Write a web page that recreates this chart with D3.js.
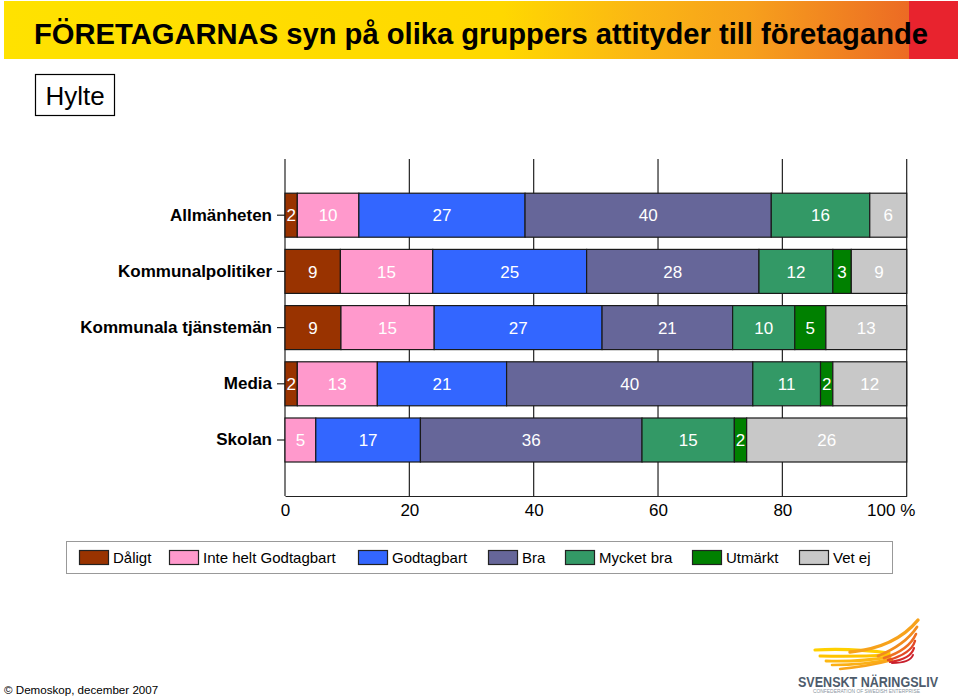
<!DOCTYPE html>
<html>
<head>
<meta charset="utf-8">
<script src="https://cdn.jsdelivr.net/npm/d3@7"></script>
<style>
  html, body { margin: 0; padding: 0; background: #fff; }
  svg { display: block; font-family: "Liberation Sans", Arial, sans-serif; }
</style>
</head>
<body>
<svg id="chart" width="960" height="698"></svg>
<script>
// ---------- DATA ----------
const categories = ["Allmänheten", "Kommunalpolitiker", "Kommunala tjänstemän", "Media", "Skolan"];
const seriesNames = ["Dåligt", "Inte helt Godtagbart", "Godtagbart", "Bra", "Mycket bra", "Utmärkt", "Vet ej"];
const daligt      = [2, 9, 9, 2, 0];
const inteHelt    = [10, 15, 15, 13, 5];
const godtagbart  = [27, 25, 27, 21, 17];
const bra         = [40, 28, 21, 40, 36];
const mycketBra   = [16, 12, 10, 11, 15];
const utmarkt     = [0, 3, 5, 2, 2];
const vetEj       = [6, 9, 13, 12, 26];
const seriesColors = ["#993300", "#FF99CC", "#3366FF", "#666699", "#339966", "#008000", "#C8C8C8"];
const tickValues = [0, 20, 40, 60, 80, 100];
const tickLabels = ["0", "20", "40", "60", "80", "100 %"];
const titleText = "FÖRETAGARNAS syn på olika gruppers attityder till företagande";
const regionText = "Hylte";
const footerText = "© Demoskop, december 2007";

// ---------- BUILD ----------
const seriesValues = [daligt, inteHelt, godtagbart, bra, mycketBra, utmarkt, vetEj];
const rows = categories.map((c, i) => {
  const r = { category: c };
  seriesNames.forEach((s, j) => { r[s] = seriesValues[j][i]; });
  return r;
});
const stacked = d3.stack().keys(seriesNames).offset(d3.stackOffsetExpand)(rows);

const svg = d3.select("#chart");
const defs = svg.append("defs");

// ---------- BANNER ----------
const grad = defs.append("linearGradient").attr("id", "bannerGrad")
  .attr("x1", "0%").attr("x2", "100%").attr("y1", "0%").attr("y2", "0%");
[[0, "#FFE200"], [0.55, "#FFD800"], [0.7, "#FBB614"], [0.82, "#F7A11C"], [0.95, "#EF7A22"], [1, "#EC6A24"]]
  .forEach(([o, c]) => grad.append("stop").attr("offset", o).attr("stop-color", c));
svg.append("rect").attr("x", 4).attr("y", 1).attr("width", 906).attr("height", 58).attr("fill", "url(#bannerGrad)");
svg.append("rect").attr("x", 909).attr("y", 1).attr("width", 49).attr("height", 58).attr("fill", "#E8232E");
svg.append("text").attr("x", 34).attr("y", 44)
  .attr("font-size", 29).attr("font-weight", "bold").attr("fill", "#000")
  .attr("textLength", 894).attr("lengthAdjust", "spacingAndGlyphs")
  .text(titleText);

// Region box
svg.append("rect").attr("x", 35.5).attr("y", 74.5).attr("width", 79).attr("height", 41)
  .attr("fill", "#fff").attr("stroke", "#000").attr("stroke-width", 1.2);
svg.append("text").attr("x", 75).attr("y", 105).attr("text-anchor", "middle")
  .attr("font-size", 26).attr("fill", "#000").text(regionText);

// ---------- SCALES ----------
const x = d3.scaleLinear().domain([0, 1]).range([285, 906.7]);
const y = d3.scaleBand().domain(categories).range([187.1, 468.1]).paddingInner(0.217).paddingOuter(0.1085);
const plotTop = 159, plotBottom = 496;

// grid lines
svg.append("g").selectAll("line").data(tickValues).join("line")
  .attr("x1", d => x(d / 100)).attr("x2", d => x(d / 100))
  .attr("y1", plotTop).attr("y2", plotBottom)
  .attr("stroke", "#222").attr("stroke-width", 1.2);

// bottom axis
const xAxis = d3.axisBottom(x).tickValues(tickValues.map(v => v / 100))
  .tickFormat((d, i) => tickLabels[i]).tickSize(0).tickPadding(8);
const gx = svg.append("g").attr("transform", `translate(0,${plotBottom})`).call(xAxis);
gx.select(".domain").attr("stroke", "#222").attr("stroke-width", 1.2);
gx.selectAll("text").attr("font-size", 17).attr("fill", "#000")
  .attr("font-family", "'Liberation Sans', Arial, sans-serif");
gx.selectAll(".tick").filter((d, i) => i === tickValues.length - 1).select("text")
  .attr("dx", -16);

// left axis
const yAxis = d3.axisLeft(y).tickSize(8).tickPadding(5);
const gy = svg.append("g").attr("transform", `translate(${x(0)},0)`).call(yAxis);
gy.select(".domain").remove();
gy.selectAll("line").attr("stroke", "#222").attr("stroke-width", 1.2);
gy.selectAll("text").attr("font-size", 17).attr("font-weight", "bold").attr("fill", "#000")
  .attr("font-family", "'Liberation Sans', Arial, sans-serif");

// ---------- BARS ----------
const layers = svg.append("g").selectAll("g").data(stacked).join("g")
  .attr("fill", (d, i) => seriesColors[i]);
layers.selectAll("rect").data(d => d.filter(p => p.data[d.key] > 0).map(p => ({ p, key: d.key })))
  .join("rect")
  .attr("x", d => x(d.p[0])).attr("width", d => x(d.p[1]) - x(d.p[0]))
  .attr("y", d => y(d.p.data.category)).attr("height", y.bandwidth())
  .attr("stroke", "#1a1a1a").attr("stroke-width", 1.2);

// value labels
const labels = svg.append("g");
stacked.forEach(layer => {
  layer.forEach(p => {
    const v = p.data[layer.key];
    if (v <= 0) return;
    labels.append("text")
      .attr("x", (x(p[0]) + x(p[1])) / 2)
      .attr("y", y(p.data.category) + y.bandwidth() / 2)
      .attr("dy", "0.36em").attr("text-anchor", "middle")
      .attr("font-size", 17).attr("fill", "#fff").text(v);
  });
});

// ---------- LEGEND ----------
svg.append("rect").attr("x", 66.5).attr("y", 541.5).attr("width", 826).attr("height", 32)
  .attr("fill", "#fff").attr("stroke", "#999").attr("stroke-width", 1);
const legendX = [79, 169, 358, 488, 565, 692, 799];
const leg = svg.append("g").selectAll("g").data(seriesNames).join("g")
  .attr("transform", (d, i) => `translate(${legendX[i]},550)`);
leg.append("rect").attr("x", 0.5).attr("y", 0.5).attr("width", 29).attr("height", 14)
  .attr("fill", (d, i) => seriesColors[i]).attr("stroke", "#222").attr("stroke-width", 1.2);
leg.append("text").attr("x", 34).attr("y", 13).attr("font-size", 15).attr("fill", "#000").text(d => d);

// ---------- FOOTER ----------
svg.append("text").attr("x", 4).attr("y", 694).attr("font-size", 11.6).attr("fill", "#000").text(footerText);

// Logo (wings)
const logo = svg.append("g");
const feathers = [
  ["M815,650 Q850,648 889,653", "#FFD000", 3.2],
  ["M820,656 Q855,657 889,655", "#FFC400", 3.0],
  ["M826,661 Q860,662 890,657", "#FDB813", 2.8],
  ["M832,665 Q865,665 891,659", "#FBB015", 2.6],
  ["M840,669 Q870,666 892,660", "#F9A51A", 2.4],
  ["M850,652 Q895,648 918,620", "#F7A21B", 3.4],
  ["M878,656 Q905,645 917,627", "#F28C1E", 2.8],
  ["M884,658 Q909,650 916,634", "#EE6F22", 2.6],
  ["M888,660 Q911,654 915,641", "#E24A26", 2.4],
  ["M890,662 Q911,659 914,648", "#D62A2A", 2.2],
  ["M892,663 Q910,663 913,655", "#C81F2C", 2.0]
];
logo.selectAll("path").data(feathers).join("path")
  .attr("d", d => d[0]).attr("fill", "none").attr("stroke", d => d[1])
  .attr("stroke-width", d => d[2]).attr("stroke-linecap", "round");
svg.append("text").attr("x", 798).attr("y", 687).attr("font-size", 14).attr("font-weight", "bold")
  .attr("fill", "#4D5B6B").attr("textLength", 140).attr("lengthAdjust", "spacingAndGlyphs")
  .text("SVENSKT NÄRINGSLIV");
svg.append("text").attr("x", 813).attr("y", 693).attr("font-size", 4.5)
  .attr("fill", "#8A949E").attr("textLength", 107).attr("lengthAdjust", "spacingAndGlyphs")
  .text("CONFEDERATION OF SWEDISH ENTERPRISE");
</script>
</body>
</html>
